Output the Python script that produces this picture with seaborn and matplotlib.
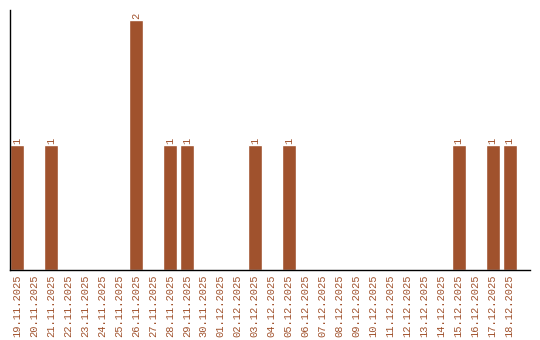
import matplotlib
matplotlib.use("Agg")
import matplotlib.pyplot as plt
import seaborn as sns
import pandas as pd

dates = ["19.11.2025", "20.11.2025", "21.11.2025", "22.11.2025", "23.11.2025",
         "24.11.2025", "25.11.2025", "26.11.2025", "27.11.2025", "28.11.2025",
         "29.11.2025", "30.11.2025", "01.12.2025", "02.12.2025", "03.12.2025",
         "04.12.2025", "05.12.2025", "06.12.2025", "07.12.2025", "08.12.2025",
         "09.12.2025", "10.12.2025", "11.12.2025", "12.12.2025", "13.12.2025",
         "14.12.2025", "15.12.2025", "16.12.2025", "17.12.2025", "18.12.2025"]
counts = [1, 0, 1, 0, 0, 0, 0, 2, 0, 1,
          1, 0, 0, 0, 1, 0, 1, 0, 0, 0,
          0, 0, 0, 0, 0, 0, 1, 0, 1, 1]

color = "#A0522D"
df = pd.DataFrame({"date": dates, "count": counts})

sns.set_style("white")
plt.rcParams["font.family"] = ["Liberation Mono", "DejaVu Sans Mono"]

fig = plt.figure(figsize=(5.4, 3.4), dpi=100)
ax = fig.add_axes([10/540, 70/340, 520/540, 260/340])
sns.barplot(data=df, x="date", y="count", color=color, saturation=1, width=0.82, ax=ax)

for i, v in enumerate(counts):
    if v > 0:
        ax.text(i, v + 0.01, str(v), rotation=90, ha="center", va="bottom",
                color=color, fontsize=7.5)

ax.set_xlim(-0.41, 30.2)
ax.set_ylim(0, 2.08)
ax.set_xlabel("")
ax.set_ylabel("")
ax.set_yticks([])
ax.tick_params(axis="x", length=0, pad=3, labelsize=7.5, labelcolor=color)
plt.setp(ax.get_xticklabels(), rotation=90)
for s in ["top", "right"]:
    ax.spines[s].set_visible(False)
for s in ["left", "bottom"]:
    ax.spines[s].set_color("black")
    ax.spines[s].set_linewidth(1)

fig.savefig("out.png", dpi=100)
